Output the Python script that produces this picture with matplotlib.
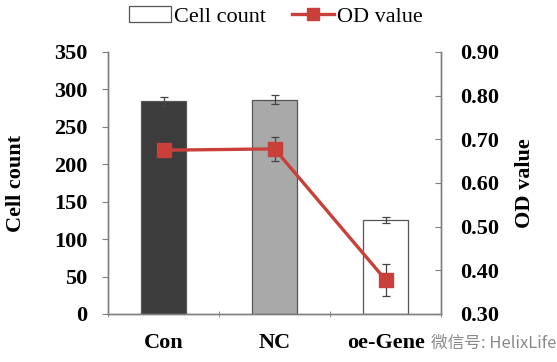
import matplotlib
matplotlib.use("Agg")
import matplotlib.pyplot as plt
from matplotlib.patches import Patch
from matplotlib.lines import Line2D

groups = ["Con", "NC", "oe-Gene"]
cell_count = [284, 286, 125]
cell_err = [6, 6, 4]
od_value = [0.675, 0.678, 0.378]
od_err = [0.004, 0.027, 0.037]

bar_colors = ["#3c3c3c", "#a9a9a9", "#ffffff"]
red = "#c9403a"
gray = "#7f7f7f"
fs = 16

plt.rcParams["font.family"] = ["Liberation Serif", "DejaVu Serif"]

fig = plt.figure(figsize=(5.57, 3.62), dpi=100)
ax = fig.add_axes([0.194, 0.1326, 0.598, 0.724])
x = list(range(len(groups)))

ax.bar(x, cell_count, width=0.41, color=bar_colors, edgecolor="#555555", linewidth=0.9,
       yerr=cell_err, error_kw=dict(ecolor="#444444", elinewidth=0.9, capsize=3, capthick=0.9), zorder=2)
ax.set_xlim(-0.5, 2.5)
ax.set_ylim(0, 350)
ax.set_yticks(range(0, 351, 50))
ax.set_ylabel("Cell count", fontsize=fs, fontweight="bold", labelpad=20)

ax.set_xticks(x)
ax.set_xticklabels(groups, fontsize=fs, fontweight="bold")
ax.set_xticks([-0.5, 0.5, 1.5, 2.5], minor=True)
ax.tick_params(axis="x", which="major", length=0, pad=14)
ax.tick_params(axis="x", which="minor", length=5, direction="inout", color=gray)
ax.tick_params(axis="y", length=4, color=gray, labelsize=fs, pad=11)
for lab in ax.get_yticklabels():
    lab.set_fontweight("bold")

ax2 = ax.twinx()
ax2.errorbar(x, od_value, yerr=od_err, color=red, linewidth=2.4, marker="s", markersize=9.5,
             ecolor="#444444", elinewidth=0.9, capsize=3, capthick=0.9, zorder=3)
ax2.set_ylim(0.30, 0.90)
ax2.set_yticks([0.30, 0.40, 0.50, 0.60, 0.70, 0.80, 0.90])
ax2.set_yticklabels([f"{v:.2f}" for v in ax2.get_yticks()], fontsize=fs, fontweight="bold")
ax2.tick_params(axis="y", direction="in", length=4, color=gray, pad=14)
ax2.set_ylabel("OD value", fontsize=fs, fontweight="bold", labelpad=11)

for a in (ax, ax2):
    a.spines["top"].set_visible(False)
    for s in ("left", "right", "bottom"):
        a.spines[s].set_color(gray)
        a.spines[s].set_linewidth(1.0)

handles = [Patch(facecolor="white", edgecolor="#555555", linewidth=0.9),
           Line2D([0], [0], color=red, linewidth=2.4, marker="s", markersize=8)]
fig.legend(handles, ["Cell count", "OD value"], loc="center", bbox_to_anchor=(0.495, 0.955),
           ncol=2, frameon=False, fontsize=fs, handlelength=1.9, handletextpad=0.1, columnspacing=1.2)

fig.text(0.998, 0.052, "微信号: HelixLife", ha="right", va="center", fontsize=12, color="#8a8a8a",
         family=["Noto Sans CJK SC", "DejaVu Sans"],
         bbox=dict(facecolor="white", edgecolor="none", alpha=0.8, pad=1))

fig.savefig("out.png", dpi=100)
